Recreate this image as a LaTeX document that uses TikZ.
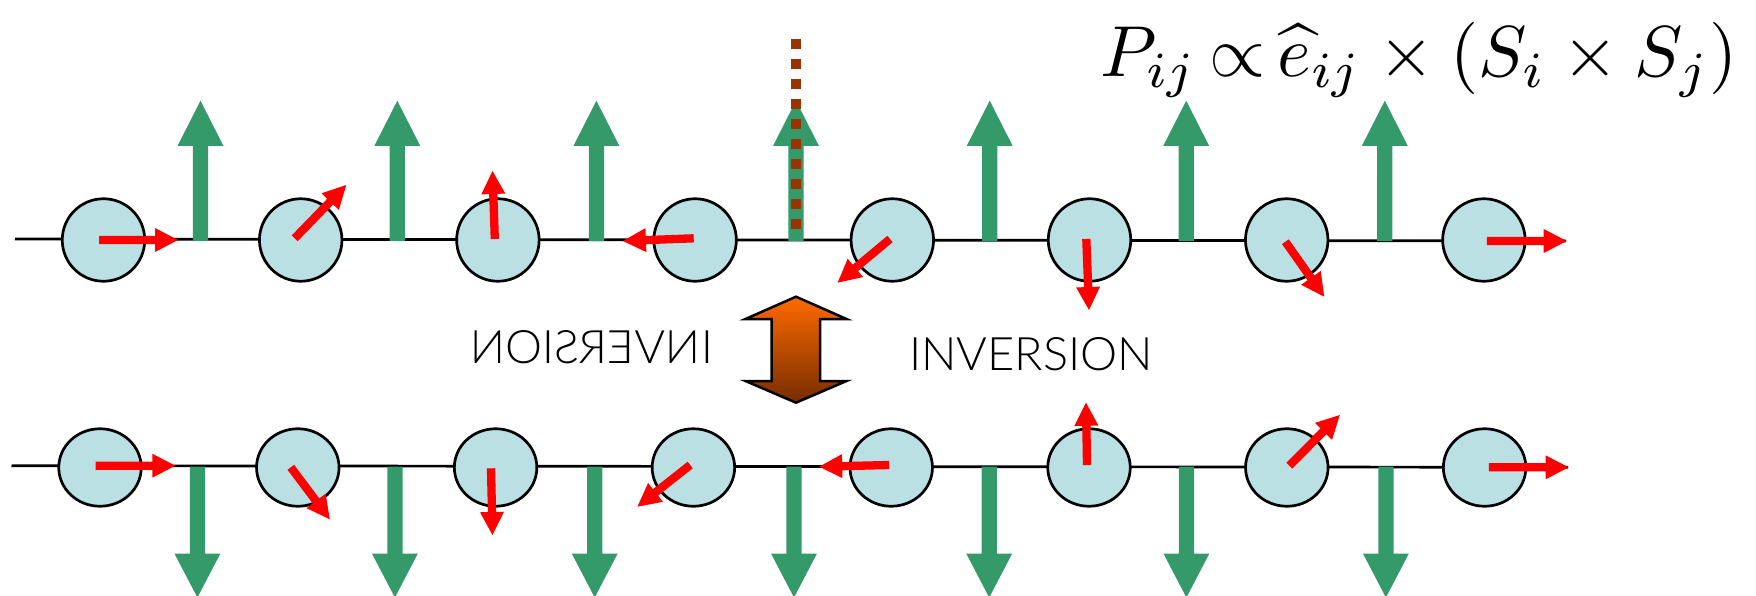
\documentclass[tikz,border=0pt]{standalone}
\usepackage{fontspec}
\usepackage{graphicx}
\usetikzlibrary{shapes.geometric}
\IfFontExistsTF{Lato Light}{\newfontfamily\invfont{Lato Light}}{\newfontfamily\invfont{Liberation Sans}}
\definecolor{spingreen}{RGB}{53,154,106}
\definecolor{sitefill}{RGB}{186,224,227}
\definecolor{dotbrown}{RGB}{153,51,0}
\definecolor{arrowtop}{RGB}{255,106,0}
\definecolor{arrowbot}{RGB}{118,44,0}
% #1 colour, #2 x, #3 y, #4 dx, #5 dy, #6 shaft half width, #7 head length, #8 head half width
\newcommand\blockarrow[8]{%
  \pgfmathsetmacro\baAng{atan2(-(#5),#4)}%
  \pgfmathsetmacro\baLen{veclen(#4,#5)}%
  \pgfmathsetmacro\baNeck{\baLen-#7}%
  \fill[#1,shift={(#2,#3)},rotate=\baAng] (0,-#6) -- (\baNeck,-#6) -- (\baNeck,-#8) -- (\baLen,0) -- (\baNeck,#8) -- (\baNeck,#6) -- (0,#6) -- cycle;}
\newcommand\spinarrow[4]{\blockarrow{red}{#1}{#2}{#3}{#4}{4.15}{23}{12}}
\newcommand\dmup[1]{\blockarrow{spingreen}{#1}{241}{0}{-140.3}{7.65}{45.3}{23}}
\newcommand\dmdown[1]{\blockarrow{spingreen}{#1}{466.5}{0}{131}{7.65}{44}{23}}
\tikzset{
  chain/.style={line width=2.7pt, black},
  topsite/.style={circle, draw=black, line width=2.7pt, fill=sitefill, minimum size=82.5pt, inner sep=0pt},
  botsite/.style={ellipse, draw=black, line width=2.7pt, fill=sitefill, minimum width=82.5pt, minimum height=77.5pt, inner sep=0pt},
  invtext/.style={inner sep=0pt, anchor=base, font=\invfont},
  dotline/.style={dotbrown, line width=10pt, dash pattern=on 10pt off 10pt},
  bigarrow/.style={draw=black, line width=2.5pt, top color=arrowtop, bottom color=arrowbot, line join=miter}
}
\begin{document}
\begin{tikzpicture}[x=1pt,y=-1pt]
\useasboundingbox (0,0) rectangle (1756,596);
% chains
\coordinate (tl) at (15,239);
\coordinate (tr) at (1566,241);
\coordinate (bl) at (11.5,465.7);
\coordinate (br) at (1568,467.3);
\draw[chain] (tl) -- (tr);
\draw[chain] (bl) -- (br);
% green arrows
\foreach \x in {200.5,397.3,596.4,796,989.7,1186.2,1384.8} {\dmup{\x}}
\foreach \x in {197.4,394.9,594.7,794,989.2,1186.4,1385.9} {\dmdown{\x}}
% sites
\foreach \i in {0,...,7} {\node[topsite] (t\i) at ({103.5+197.2*\i},240) {};}
\foreach \i in {0,...,7} {\node[botsite] (b\i) at ({100+197.8*\i},467.5) {};}
% spins top
\spinarrow{99}{240}{79}{0}
\spinarrow{294.7}{238.3}{51.6}{-53.3}
\spinarrow{494.8}{239}{-2.3}{-68}
\spinarrow{693.7}{238.3}{-70.8}{2.7}
\spinarrow{890}{239}{-52.4}{43.7}
\spinarrow{1086.3}{239}{2.7}{71}
\spinarrow{1285.4}{241.7}{38.8}{55}
\spinarrow{1486.9}{241}{79.8}{0}
% spins bottom
\spinarrow{95.7}{465.7}{79.6}{0}
\spinarrow{290.8}{467.3}{39}{52}
\spinarrow{491}{468.3}{1.5}{66.7}
\spinarrow{690.2}{465}{-52.8}{41.7}
\spinarrow{889.2}{465}{-70}{1.7}
\spinarrow{1087}{465}{-1}{-62.3}
\spinarrow{1289.2}{465.7}{50.6}{-50.7}
\spinarrow{1488.8}{467.3}{79.8}{0}
% mirror plane
\coordinate (mtop) at (796,39.3);
\coordinate (mbot) at (796,229.3);
\draw[dotline] (mtop) -- (mbot);
% double arrow
\filldraw[bigarrow] (796,296.7) -- (846.5,319) -- (820,319) -- (820,381) -- (846.5,381) -- (796,402.7) -- (745.5,381) -- (771.5,381) -- (771.5,319) -- (745.5,319) -- cycle;
% texts
\node[invtext] (invR) at (1031,370.7) {\resizebox{244pt}{33pt}{INVERSION}};
\node[invtext, xscale=-1] (invL) at (591.5,363.3) {\resizebox{243pt}{33pt}{INVERSION}};
\node[anchor=base west, inner sep=0pt] (formula) at (1100,77) {\resizebox{637pt}{!}{$P_{ij}\,{\propto}\,\widehat{e}_{ij}\times(S_i\times S_j)$}};
\end{tikzpicture}
\end{document}
